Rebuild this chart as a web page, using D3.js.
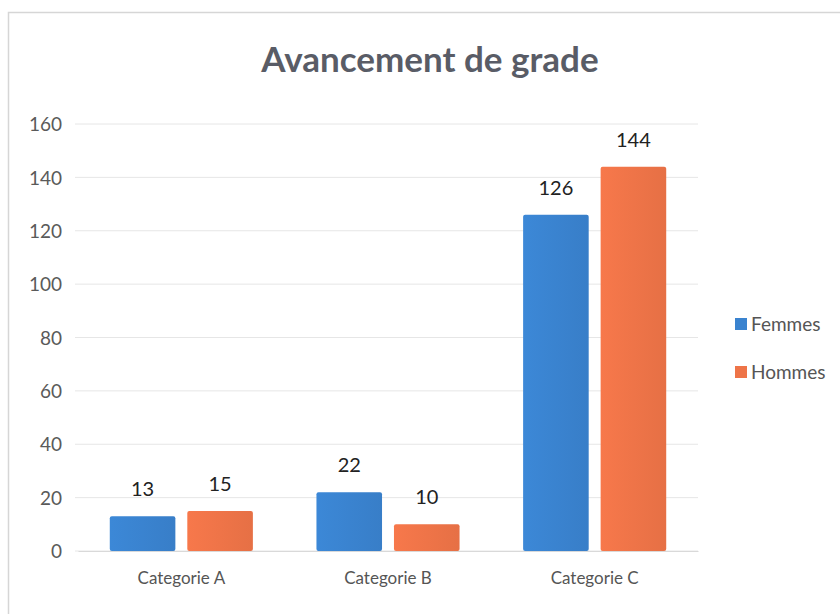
<!DOCTYPE html>
<html><head><meta charset="utf-8">
<script src="https://cdn.jsdelivr.net/npm/d3@7"></script>
<style>body{margin:0;background:#fff}svg{display:block}</style>
</head><body>
<svg id="c" width="840" height="614"></svg>
<script>
const categories = ["Categorie A", "Categorie B", "Categorie C"];
const seriesNames = ["Femmes", "Hommes"];
const femmes = [13, 22, 126];
const hommes = [15, 10, 144];
const yTicks = [0, 20, 40, 60, 80, 100, 120, 140, 160];
const colors = ["#3a83cf", "#ee7448"];

(function () {
const svg = d3.select("#c");
const font = "Lato, 'Open Sans', sans-serif";

// frame
svg.append("rect").attr("x", 8.5).attr("y", 12.5).attr("width", 840).attr("height", 620)
  .attr("fill", "#fff").attr("stroke", "#d6d6d6").attr("stroke-width", 1.5);

const mLeft = 78, mRight = 698, mTop = 124, mBottom = 551;
const x = d3.scaleBand().domain(categories).range([mLeft, mRight]).paddingInner(0).paddingOuter(0);
const xs = d3.scaleBand().domain(seriesNames).range([0, x.bandwidth()]).paddingInner(0.154).paddingOuter(0.41);
const y = d3.scaleLinear().domain([0, 160]).range([mBottom, mTop]);

// gridlines
svg.append("g").selectAll("line").data(yTicks).join("line")
  .attr("x1", mLeft - 3).attr("x2", mRight)
  .attr("y1", d => y(d)).attr("y2", d => y(d))
  .attr("stroke", "#e6e6e6").attr("stroke-width", 1);

// y axis labels
const yAxis = d3.axisLeft(y).tickValues(yTicks).tickSize(0).tickPadding(0);
const yg = svg.append("g").attr("transform", `translate(62,0)`).call(yAxis);
yg.select(".domain").remove();
yg.selectAll("text").attr("font-family", font).attr("font-size", 19).attr("fill", "#5a5a5a").attr("dy", "0.35em");

// x axis
const xAxis = d3.axisBottom(x).tickSize(0).tickPadding(0);
const xg = svg.append("g").attr("transform", `translate(0,${mBottom})`).call(xAxis);
xg.select(".domain").attr("stroke", "#d9d9d9");
xg.selectAll("text").attr("font-family", font).attr("font-size", 17).attr("fill", "#555").attr("dy", "1.95em");

// gradients
const defs = svg.append("defs");
colors.forEach((c, i) => {
  const g = defs.append("linearGradient").attr("id", "g" + i).attr("x1", 0).attr("x2", 1).attr("y1", 0).attr("y2", 0);
  g.append("stop").attr("offset", "0%").attr("stop-color", d3.color(c).brighter(0.1));
  g.append("stop").attr("offset", "100%").attr("stop-color", d3.color(c).darker(0.1));
});

const data = [];
categories.forEach((cat, i) => {
  data.push({cat, s: "Femmes", v: femmes[i], k: 0});
  data.push({cat, s: "Hommes", v: hommes[i], k: 1});
});

svg.append("g").selectAll("rect").data(data).join("rect")
  .attr("x", d => x(d.cat) + xs(d.s))
  .attr("width", xs.bandwidth())
  .attr("y", d => y(d.v))
  .attr("height", d => y(0) - y(d.v))
  .attr("rx", 2)
  .attr("fill", d => `url(#g${d.k})`);

svg.append("g").selectAll("text").data(data).join("text")
  .attr("x", d => x(d.cat) + xs(d.s) + xs.bandwidth() / 2)
  .attr("y", d => y(d.v) - 20)
  .attr("text-anchor", "middle")
  .attr("font-family", font).attr("font-size", 20).attr("fill", "#222")
  .text(d => d.v);

// title
svg.append("text").attr("x", 430).attr("y", 72).attr("text-anchor", "middle")
  .attr("font-family", font).attr("font-weight", "bold").attr("font-size", 35).attr("fill", "#595c66")
  .text("Avancement de grade");

// legend
const lg = svg.append("g").selectAll("g").data(seriesNames).join("g")
  .attr("transform", (d, i) => `translate(735,${324 + i * 48})`);
lg.append("rect").attr("x", 0).attr("y", -6).attr("width", 12).attr("height", 12).attr("fill", (d, i) => colors[i]);
lg.append("text").attr("x", 16).attr("y", 0).attr("dy", "0.35em")
  .attr("font-family", font).attr("font-size", 19).attr("fill", "#555").text(d => d);
})();
</script>
</body></html>
